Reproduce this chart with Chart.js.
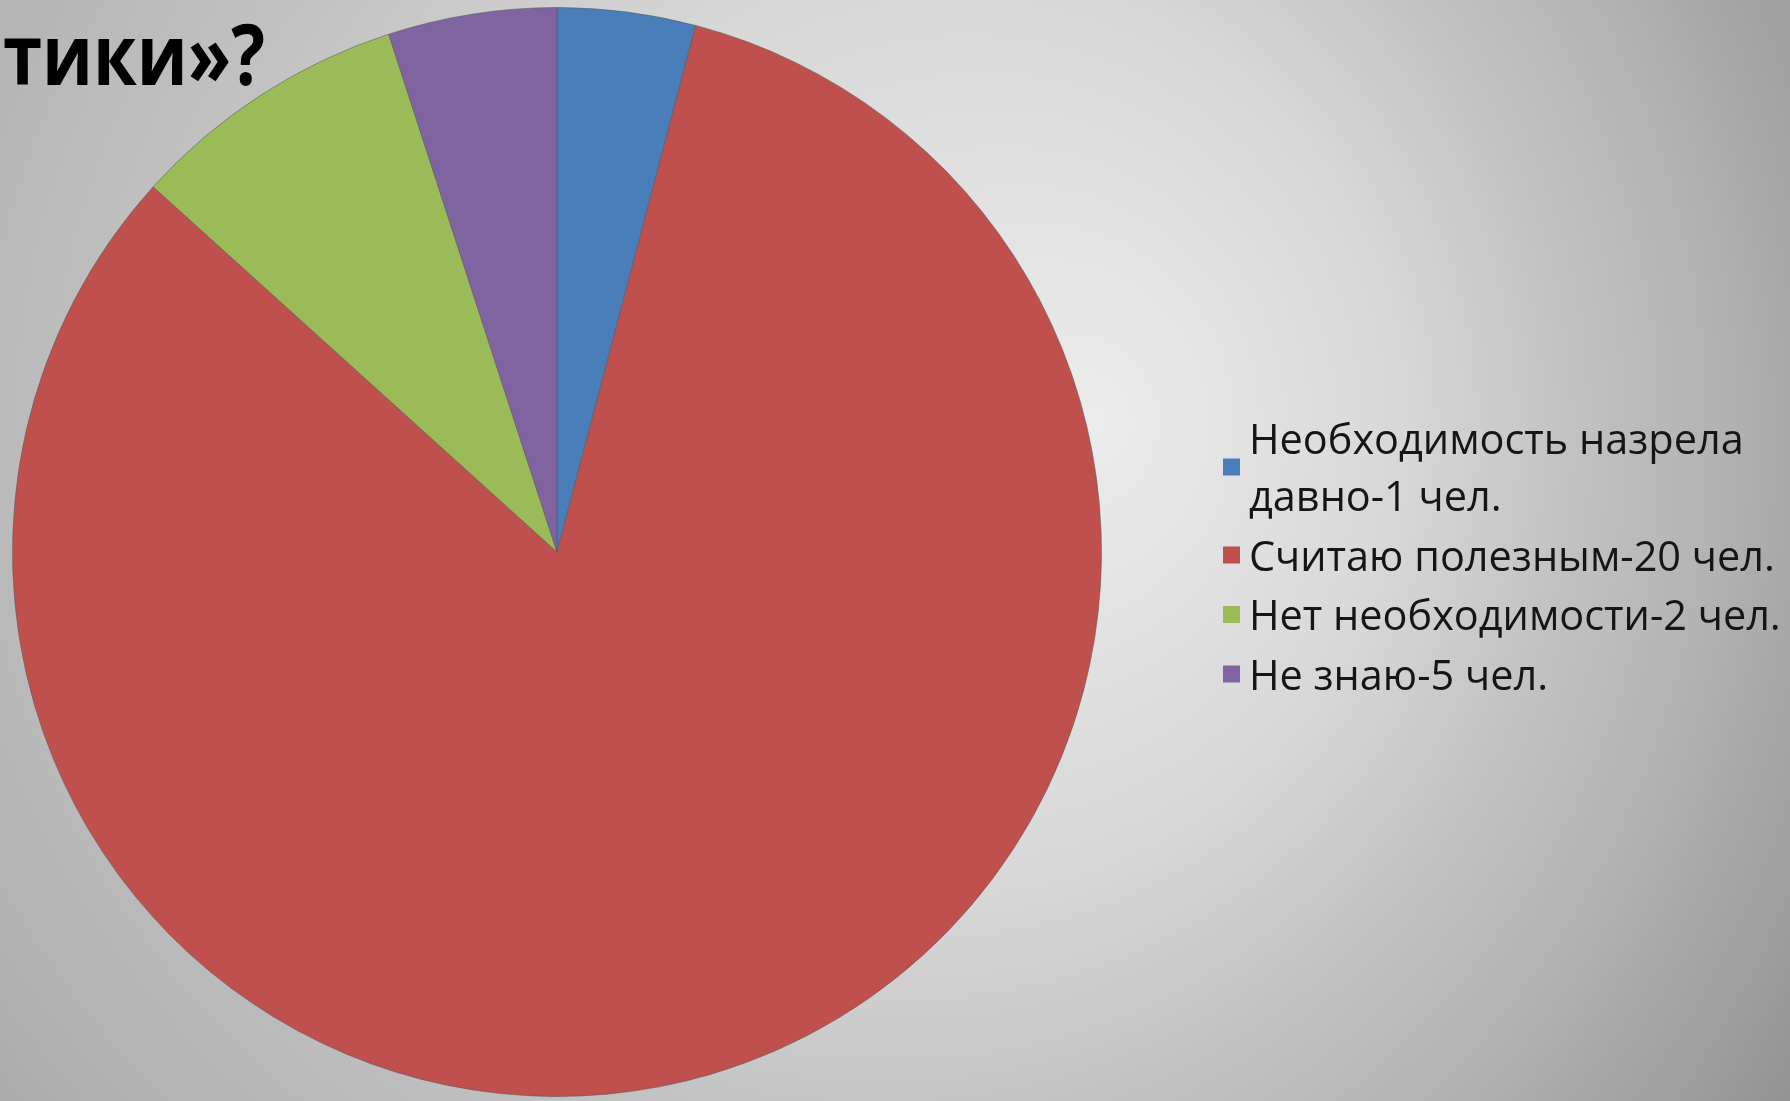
<!DOCTYPE html>
<html><head><meta charset="utf-8">
<script src="https://cdn.jsdelivr.net/npm/chart.js@4.4.1/dist/chart.umd.min.js"></script>
<style>
html,body{margin:0;padding:0;overflow:hidden;background:#c8c8c8}
#wrap{width:1790px;height:1101px;position:relative}
</style>
</head><body>
<div id="wrap"><canvas id="c"></canvas></div>
<script>
// ---- data ----
const categories = [
  ['Необходимость назрела', 'давно-1 чел.'],
  'Считаю полезным-20 чел.',
  'Нет необходимости-2 чел.',
  'Не знаю-5 чел.'
];
const shares = [4.1, 82.6, 8.3, 5];
const sliceColors = ['#4a7ebb', '#c0504d', '#9bbb59', '#8064a2'];
const titleText = 'тики»?';

const bgPlugin = {
  id: 'bg',
  beforeDraw(chart) {
    const ctx = chart.ctx;
    const g = ctx.createRadialGradient(1100, 420, 0, 650, 450, 1350);
    g.addColorStop(0, '#ececec');
    g.addColorStop(0.34, '#d7d7d7');
    g.addColorStop(0.52, '#c2c2c2');
    g.addColorStop(0.62, '#b9b9b9');
    g.addColorStop(0.71, '#b0b0b0');
    g.addColorStop(0.77, '#a8a8a8');
    g.addColorStop(0.87, '#9e9e9e');
    g.addColorStop(0.96, '#939393');
    g.addColorStop(1, '#909090');
    ctx.save();
    ctx.fillStyle = g;
    ctx.fillRect(0, 0, chart.width, chart.height);
    ctx.restore();
  }
};

const textPlugin = {
  id: 'texts',
  afterDraw(chart) {
    const ctx = chart.ctx;
    const labels = chart.data.labels;
    const cols = chart.data.datasets[0].backgroundColor;
    ctx.save();
    // legend
    ctx.font = '100px "Open Sans"';
    const ref = ctx.measureText('Нет необходимости-2 чел.').width;
    const fs = 100 * 532 / ref;
    ctx.font = fs + 'px "Open Sans"';
    ctx.textBaseline = 'alphabetic';
    let y = 454;
    labels.forEach((lab, i) => {
      const lines = Array.isArray(lab) ? lab : [lab];
      const first = y;
      ctx.fillStyle = '#151515';
      lines.forEach((ln, j) => {
        ctx.fillText(ln, 1249, y);
        if (j < lines.length - 1) y += 57;
      });
      const mid = (first + y) / 2 - 15.5;
      ctx.fillStyle = cols[i];
      ctx.fillRect(1223, mid - 8.5, 17, 17);
      y += 59.5;
    });
    // title fragment
    ctx.font = 'bold 84px "Open Sans"';
    const tw = ctx.measureText(titleText).width;
    ctx.fillStyle = '#000000';
    ctx.translate(3, 85);
    ctx.scale(262 / tw, 1);
    ctx.fillText(titleText, 0, 0);
    ctx.restore();
  }
};

new Chart(document.getElementById('c'), {
  type: 'pie',
  data: {
    labels: categories,
    datasets: [{
      data: shares,
      backgroundColor: sliceColors,
      borderColor: 'rgba(90,90,90,0.55)',
      borderWidth: 1,
      hoverOffset: 0
    }]
  },
  options: {
    responsive: true,
    maintainAspectRatio: false,
    animation: false,
    layout: { padding: { left: 12, top: 7, right: 688, bottom: 4 } },
    plugins: {
      legend: { display: false },
      tooltip: { enabled: false },
      title: { display: false }
    }
  },
  plugins: [bgPlugin, textPlugin]
});
</script>
</body></html>
